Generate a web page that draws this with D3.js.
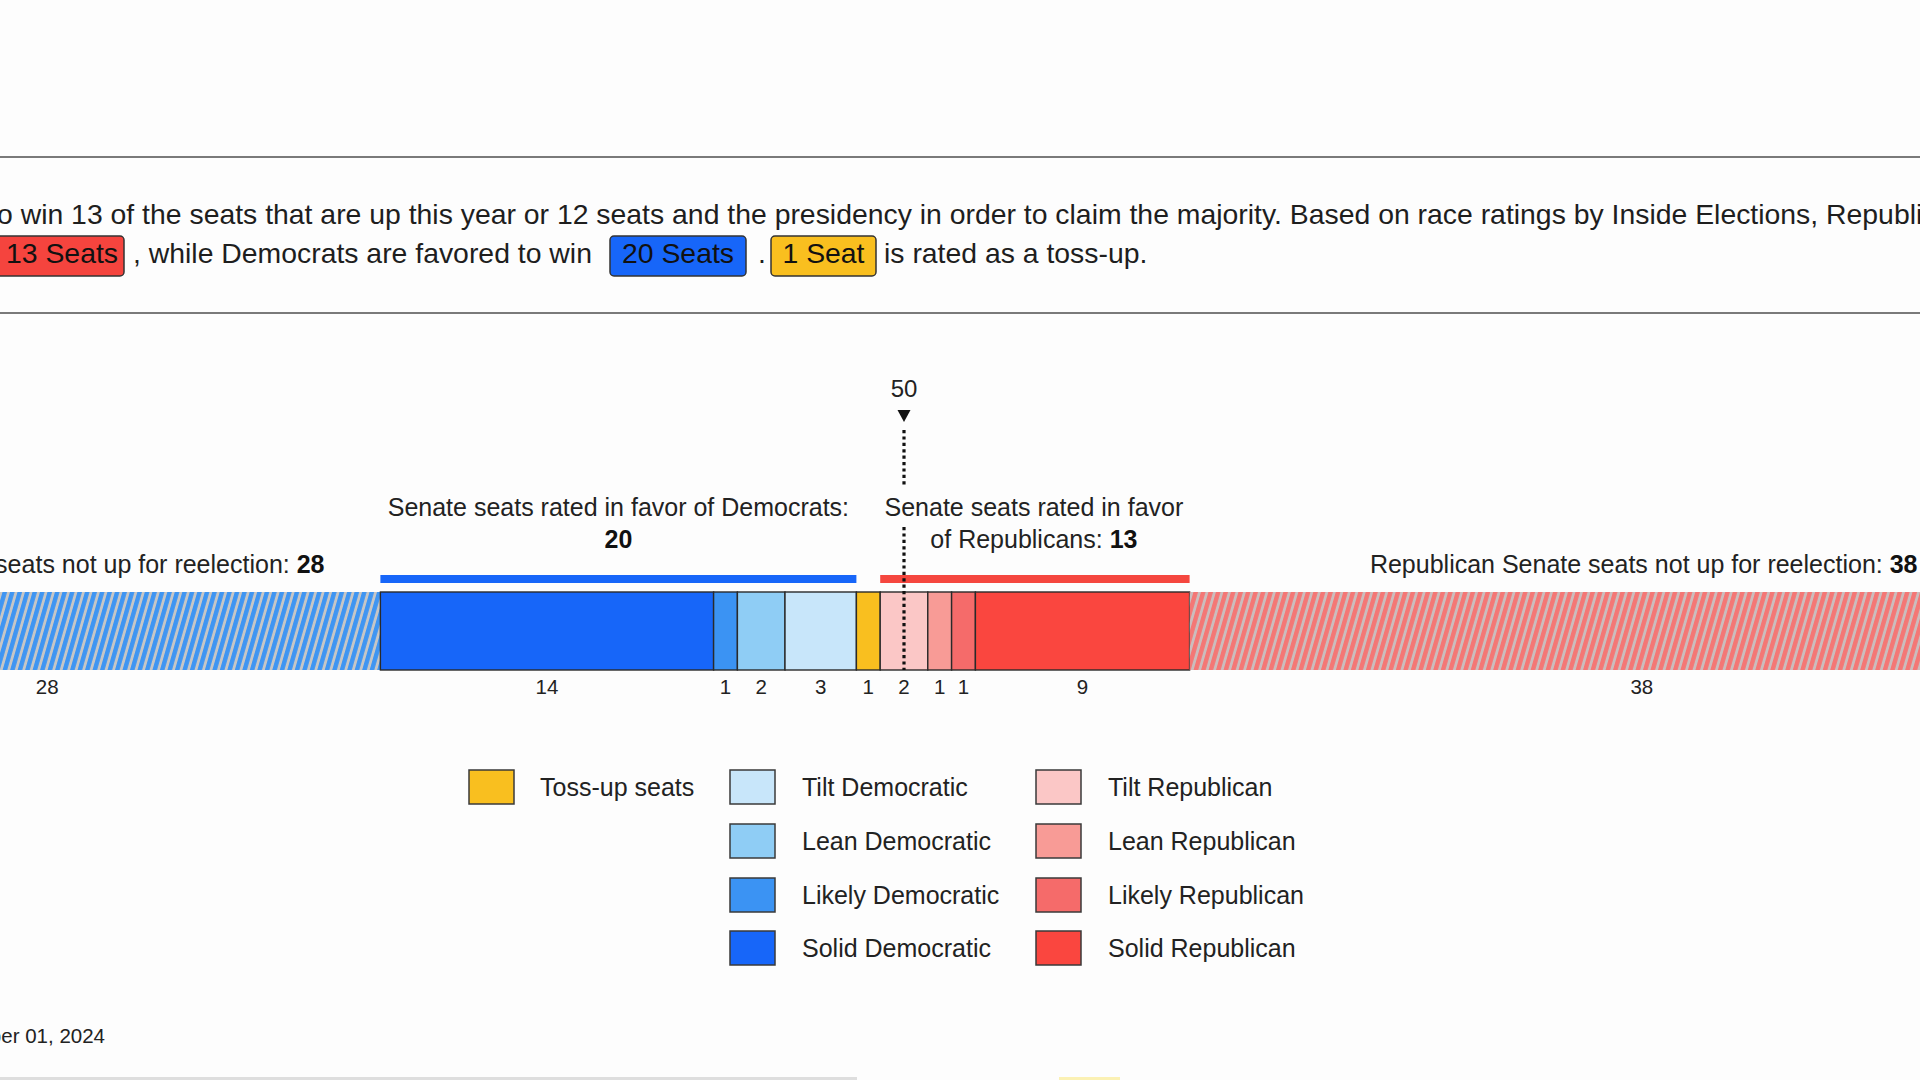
<!DOCTYPE html>
<html>
<head>
<meta charset="utf-8">
<script src="https://cdn.jsdelivr.net/npm/d3@7"></script>
<style>
  html, body { margin: 0; padding: 0; background: #fdfdfd; overflow: hidden; }
  svg { display: block; font-family: "Liberation Sans", Arial, Helvetica, sans-serif; }
</style>
</head>
<body>
<svg id="chart" width="1920" height="1080"></svg>
<script>
// ---------------- DATA ----------------
const categories = ["Democratic seats not up", "Solid Democratic", "Likely Democratic", "Lean Democratic", "Tilt Democratic",
                    "Toss-up seats", "Tilt Republican", "Lean Republican", "Likely Republican", "Solid Republican", "Republican seats not up"];
const seats = [28, 14, 1, 2, 3, 1, 2, 1, 1, 9, 38];
const segColors = ["hatchDem", "#1766f9", "#3b93f3", "#8fcdf5", "#c8e6fa", "#f9bf1f", "#fbc7c6", "#f89b96", "#f56b6a", "#fa463f", "hatchRep"];
const tickLabels = ["28", "14", "1", "2", "3", "1", "2", "1", "1", "9", "38"];
const majority = 50;
const demFavored = 20, repFavored = 13, tossUp = 1, demNotUp = 28, repNotUp = 38;

const legendCol1 = ["Toss-up seats"];
const legendCol2 = ["Tilt Democratic", "Lean Democratic", "Likely Democratic", "Solid Democratic"];
const legendCol3 = ["Tilt Republican", "Lean Republican", "Likely Republican", "Solid Republican"];
const legendColors = {
  "Toss-up seats": "#f9bf1f",
  "Tilt Democratic": "#c8e6fa", "Lean Democratic": "#8fcdf5", "Likely Democratic": "#3b93f3", "Solid Democratic": "#1766f9",
  "Tilt Republican": "#fbc7c6", "Lean Republican": "#f89b96", "Likely Republican": "#f56b6a", "Solid Republican": "#fa463f"
};

const paraLine1 = "to win 13 of the seats that are up this year or 12 seats and the presidency in order to claim the majority. Based on race ratings by Inside Elections, Republicans are favored to win";
const dateText = "October 01, 2024";

// ---------------- SETUP ----------------
const svg = d3.select("#chart");
svg.append("rect").attr("width", 1920).attr("height", 1080).attr("fill", "#fdfdfd");

const defs = svg.append("defs");
function hatch(id, c1, c2) {
  const p = defs.append("pattern").attr("id", id).attr("patternUnits", "userSpaceOnUse")
    .attr("width", 7.2).attr("height", 20).attr("patternTransform", "rotate(16)");
  p.append("rect").attr("width", 7.2).attr("height", 20).attr("fill", c2);
  p.append("rect").attr("width", 4.4).attr("height", 20).attr("fill", c1);
}
hatch("hatchDem", "#3f95f2", "#c6c6c6");
hatch("hatchRep", "#f47775", "#cbbdbd");

// ---------------- PARAGRAPH ----------------
svg.append("line").attr("x1", 0).attr("x2", 1920).attr("y1", 157).attr("y2", 157).attr("stroke", "#7a7a7a").attr("stroke-width", 2);
svg.append("line").attr("x1", 0).attr("x2", 1920).attr("y1", 313).attr("y2", 313).attr("stroke", "#7a7a7a").attr("stroke-width", 2);

const l1 = svg.append("text").attr("y", 224).attr("fill", "#1e1e1e").attr("font-size", 28).text(paraLine1);
const idxR = paraLine1.indexOf("Republicans");
let w = l1.node().getSubStringLength(1, idxR - 1);
const pfs = 28 * 1830 / w;
l1.attr("font-size", pfs);
l1.attr("x", -3 - l1.node().getSubStringLength(0, 1));

const l2y = 263;
function badge(x0, x1, label, fill, anchor) {
  svg.append("rect").attr("x", x0).attr("y", 236).attr("width", x1 - x0).attr("height", 40).attr("rx", 4)
    .attr("fill", fill).attr("stroke", "#333").attr("stroke-width", 1.5);
  const t = svg.append("text").attr("y", l2y).attr("font-size", pfs).attr("fill", "#111").text(label);
  if (anchor === "end") t.attr("x", x1 - 6).attr("text-anchor", "end");
  else t.attr("x", (x0 + x1) / 2).attr("text-anchor", "middle");
}
badge(-30, 124, repFavored + " Seats", "#f5443e", "end");
svg.append("text").attr("x", 133).attr("y", l2y).attr("font-size", pfs).attr("fill", "#1e1e1e").text(", while Democrats are favored to win");
badge(610, 746, demFavored + " Seats", "#1766f9");
svg.append("text").attr("x", 758).attr("y", l2y).attr("font-size", pfs).attr("fill", "#1e1e1e").text(".");
badge(771, 876, tossUp + " Seat", "#f9bf1f");
svg.append("text").attr("x", 884).attr("y", l2y).attr("font-size", pfs).attr("fill", "#1e1e1e").text("is rated as a toss-up.");

// ---------------- BAR ----------------
const x = d3.scaleLinear().domain([0, 100]).range([-286, 2094]);
const barTop = 592, barH = 78;
let cum = 0;
const segs = seats.map((s, i) => { const d = { cat: categories[i], s, start: cum, end: cum + s, color: segColors[i], label: tickLabels[i] }; cum += s; return d; });

const g = svg.append("g");
g.selectAll("rect.seg").data(segs).join("rect").attr("class", "seg")
  .attr("x", d => x(d.start)).attr("y", barTop)
  .attr("width", d => x(d.end) - x(d.start)).attr("height", barH)
  .attr("fill", d => d.color.startsWith("#") ? d.color : `url(#${d.color})`)
  .attr("stroke", d => d.color.startsWith("#") ? "#2a2a2a" : "none")
  .attr("stroke-width", 1.4);

g.selectAll("text.tick").data(segs).join("text").attr("class", "tick")
  .attr("x", d => x((d.start + d.end) / 2)).attr("y", 694)
  .attr("text-anchor", "middle").attr("font-size", 20.5).attr("fill", "#222")
  .text(d => d.label);

// brackets
const demStart = segs[1].start, demEnd = segs[4].end, repStart = segs[6].start, repEnd = segs[9].end;
svg.append("rect").attr("x", x(demStart)).attr("width", x(demEnd) - x(demStart)).attr("y", 575).attr("height", 8).attr("fill", "#1766f9");
svg.append("rect").attr("x", x(repStart)).attr("width", x(repEnd) - x(repStart)).attr("y", 575).attr("height", 8).attr("fill", "#f5473f");

// majority marker
const mx = x(majority);
svg.append("text").attr("x", mx).attr("y", 397).attr("text-anchor", "middle").attr("font-size", 24).attr("fill", "#222").text(majority);
svg.append("path").attr("d", `M${mx - 6.5},410 L${mx + 6.5},410 L${mx},422 Z`).attr("fill", "#111");
[[430, 487], [527, 670]].forEach(([a, b]) => {
  svg.append("line").attr("x1", mx).attr("x2", mx).attr("y1", a).attr("y2", b)
    .attr("stroke", "#111").attr("stroke-width", 3.2).attr("stroke-dasharray", "3.2,3.2");
});

// annotations
const afs = 25;
function ann(xp, y, anchor, normal, bold) {
  const t = svg.append("text").attr("x", xp).attr("y", y).attr("text-anchor", anchor).attr("font-size", afs).attr("fill", "#222");
  t.append("tspan").text(normal);
  if (bold !== undefined) t.append("tspan").attr("font-weight", "bold").attr("fill", "#111").text(bold);
}
const demMid = (x(demStart) + x(demEnd)) / 2;
ann(demMid, 516, "middle", "Senate seats rated in favor of Democrats:");
ann(demMid, 548, "middle", "", demFavored);
const repMid = (x(repStart) + x(repEnd)) / 2 - 1;
ann(repMid, 516, "middle", "Senate seats rated in favor");
ann(repMid, 548, "middle", "of Republicans: ", repFavored);
ann(324.5, 573, "end", "Democratic Senate seats not up for reelection: ", demNotUp);
ann(1917.5, 573, "end", "Republican Senate seats not up for reelection: ", repNotUp);

// ---------------- LEGEND ----------------
const cols = [{ items: legendCol1, sx: 469, tx: 540 }, { items: legendCol2, sx: 730, tx: 802 }, { items: legendCol3, sx: 1036, tx: 1108 }];
const rowY = [787, 841, 895, 948];
cols.forEach(c => {
  const lg = svg.append("g");
  lg.selectAll("rect").data(c.items).join("rect")
    .attr("x", c.sx).attr("y", (d, i) => rowY[i] - 17).attr("width", 45).attr("height", 34)
    .attr("fill", d => legendColors[d]).attr("stroke", "#3a3a3a").attr("stroke-width", 1.5);
  lg.selectAll("text").data(c.items).join("text")
    .attr("x", c.tx).attr("y", (d, i) => rowY[i] + 9).attr("font-size", 25).attr("fill", "#222").text(d => d);
});

// ---------------- FOOTER ----------------
svg.append("text").attr("x", 105).attr("y", 1043).attr("text-anchor", "end").attr("font-size", 20.5).attr("fill", "#222").text(dateText);
svg.append("rect").attr("x", 0).attr("y", 1077).attr("width", 857).attr("height", 3).attr("fill", "#dedede");
svg.append("rect").attr("x", 1059).attr("y", 1077).attr("width", 61).attr("height", 3).attr("fill", "#fbf1b4");
</script>
</body>
</html>
